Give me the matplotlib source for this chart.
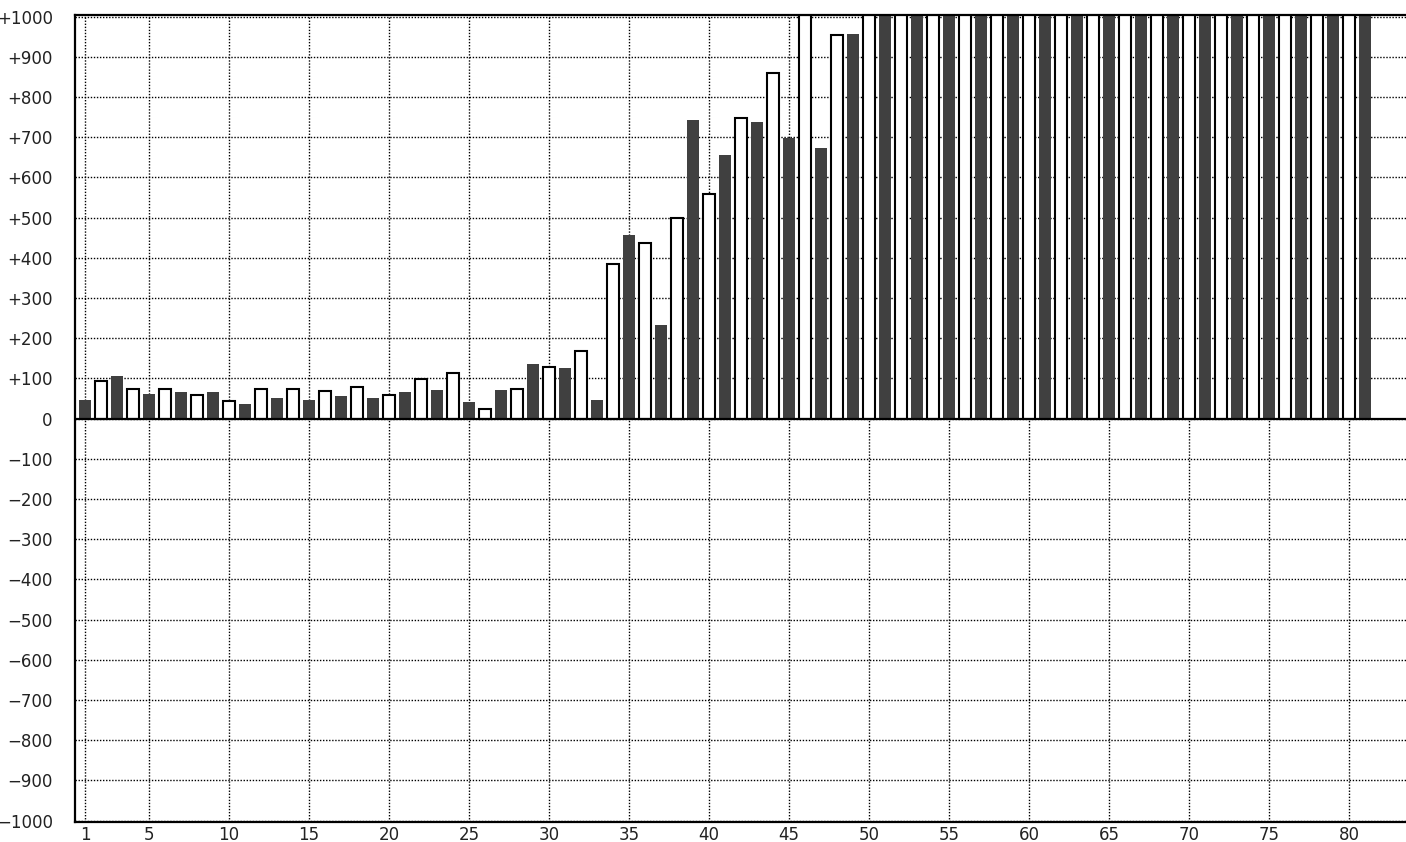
import numpy as np
import matplotlib
matplotlib.use("Agg")
import matplotlib.pyplot as plt

# dunkle Balken (ungerade Positionen 1..81)
dark_pos = list(range(1, 82, 2))
dark_vals = [47, 107, 62, 67, 67, 37, 52, 47, 57, 52,
             67, 72, 42, 72, 137, 127, 47, 457, 232, 742,
             657, 737, 697, 672, 957,
             1080, 1120, 1150, 1190, 1210, 1240, 1260, 1300,
             1320, 1350, 1380, 1400, 1430, 1460, 1490, 1520]

# weisse Balken (gerade Positionen 2..80)
light_pos = list(range(2, 81, 2))
light_vals = [94, 73, 73, 59, 44, 73, 74, 69, 79, 59,
              98, 114, 23, 74, 129, 169, 384, 438, 498, 558,
              748, 859, 1040, 954,
              1100, 1130, 1170, 1200, 1220, 1250, 1280, 1310,
              1340, 1360, 1390, 1420, 1450, 1470, 1500, 1530]

xticks = [1] + list(range(5, 81, 5))
yticks = list(range(-1000, 1001, 100))
ylabels = ["+%d" % v if v > 0 else ("0" if v == 0 else "\u2212%d" % -v) for v in yticks]

fig = plt.figure(figsize=(14.06, 8.42), dpi=100)
ax = fig.add_axes([75 / 1406, 1 - 821.5 / 842, 1 - 75 / 1406 + 0.01, (821.5 - 15) / 842])

ax.bar(dark_pos, dark_vals, width=0.75, color="#404040", zorder=2)
ax.bar(light_pos, light_vals, width=0.72, color="white", edgecolor="black",
       linewidth=1.5, zorder=2)
ax.axhline(0, color="black", linewidth=1.6, zorder=3)

ax.set_xlim(0.375, 84.44)
ax.set_ylim(-1002, 1004)
ax.set_xticks(xticks)
ax.set_yticks(yticks)
ax.set_yticklabels(ylabels)

ax.grid(True, color="black", linestyle=(0, (1, 1.2)), linewidth=1.0, zorder=1)
ax.set_axisbelow(True)
ax.tick_params(axis="both", length=0, labelsize=12, colors="#222222")
ax.tick_params(axis="y", pad=16)
ax.tick_params(axis="x", pad=3)

for s in ["left", "top", "bottom"]:
    ax.spines[s].set_linewidth(1.6)
ax.spines["right"].set_visible(False)

fig.savefig("out.png", dpi=100)
